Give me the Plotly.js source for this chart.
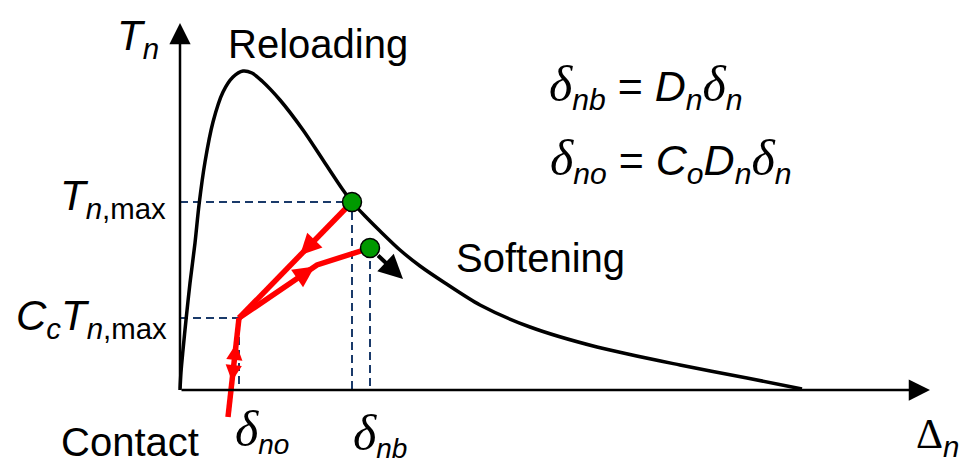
<!DOCTYPE html>
<html><head><meta charset="utf-8">
<script src="https://cdn.plot.ly/plotly-3.0.1.min.js"></script>
<style>html,body{margin:0;padding:0;background:#fff}</style>
</head><body><div id="chart" style="width:964px;height:463px"></div>
<script>
// Traction-separation (softening) envelope, schematic units
const curveDelta = [0, 1, 3, 6, 10, 15, 19, 25, 33, 43, 53, 63, 72, 82, 100, 123, 143, 163, 172, 185, 200, 220, 240, 265, 300, 350, 417, 500, 567, 622];
const curveT     = [0, 18, 40, 70, 107, 147, 185, 228, 268, 298, 313, 319, 317, 309, 290, 260, 230, 200, 188, 174, 159, 140, 124, 107, 85, 63, 43, 25, 12, 1];

// characteristic values
const deltaNb0 = 172;      // separation at unloading start
const tnMax = 188;         // T_n,max
const deltaNo = 59;        // delta_no
const ccTnMax = 72;        // C_c T_n,max
const deltaNb = 190;       // delta_nb (reloading end)
const tReload = 142;

// red unloading / reloading / contact paths
const unloadDelta = [deltaNb0, deltaNo];
const unloadT     = [tnMax, ccTnMax];
const reloadDelta = [deltaNo, 137, deltaNb];
const reloadT     = [ccTnMax, 125, tReload];
const contactDelta = [48, deltaNo];
const contactT     = [-27, ccTnMax];
// softening direction arrow end
const softDelta = 223, softT = 111;
// axis extents
const axisXEnd = 750, axisYEnd = 367;

const navy = '#1a3a6a';
const dash = {color: navy, width: 2, dash: '8px,5px'};
const traces = [
  {x: [0, deltaNb0, deltaNb0], y: [tnMax, tnMax, 0], mode: 'lines', line: dash},
  {x: [0, deltaNo, deltaNo], y: [ccTnMax, ccTnMax, 0], mode: 'lines', line: dash},
  {x: [deltaNb, deltaNb], y: [tReload, 0], mode: 'lines', line: dash},
  {x: curveDelta, y: curveT, mode: 'lines', line: {color: '#000', width: 3.5, shape: 'spline', smoothing: 0.8}},
  {x: unloadDelta, y: unloadT, mode: 'lines', line: {color: '#ff0000', width: 5.5}},
  {x: reloadDelta, y: reloadT, mode: 'lines', line: {color: '#ff0000', width: 5.5}},
  {x: contactDelta, y: contactT, mode: 'lines', line: {color: '#ff0000', width: 5.5}},
  {x: [deltaNb0, deltaNb], y: [tnMax, tReload], mode: 'markers',
   marker: {size: 19, color: '#009900', line: {color: '#000', width: 1.5}}}
];

function lerp(xs, ys, i, t) {
  return [xs[i] + (xs[i+1]-xs[i])*t, ys[i] + (ys[i+1]-ys[i])*t];
}
function arrow(tip, tail, color, w, size, extra) {
  return Object.assign({x: tip[0], y: tip[1], ax: tail[0], ay: tail[1], xref: 'x', yref: 'y', axref: 'x', ayref: 'y',
    text: '', showarrow: true, arrowhead: 2, arrowcolor: color, arrowwidth: w, arrowsize: size, standoff: 0}, extra || {});
}

const W = 964, H = 463;
function txt(text, px, py, size, xanchor, extra) {
  return Object.assign({x: px / W, y: 1 - py / H, xref: 'paper', yref: 'paper', text: text, showarrow: false,
    xanchor: xanchor || 'center', yanchor: 'middle', font: {family: 'Liberation Sans, Arial', size: size, color: '#000'}}, extra || {});
}
const dl = '<span style="font-family:Liberation Serif;font-size:50px"><i>δ</i></span>';

const annotations = [
  // axes
  arrow([axisXEnd, 0], [0, 0], '#000', 2.5, 1.7),
  arrow([0, axisYEnd], [0, 0], '#000', 2.5, 1.7),
  // path direction arrows
  arrow(lerp(unloadDelta, unloadT, 0, 0.46), lerp(unloadDelta, unloadT, 0, 0.34), '#ff0000', 5, 0.85),
  arrow(lerp(reloadDelta, reloadT, 0, 0.97), lerp(reloadDelta, reloadT, 0, 0.83), '#ff0000', 5, 0.85),
  arrow(lerp(contactDelta, contactT, 0, 0.74), lerp(contactDelta, contactT, 0, 0.62), '#ff0000', 5, 0.65),
  arrow(lerp(contactDelta, contactT, 0, 0.36), lerp(contactDelta, contactT, 0, 0.48), '#ff0000', 5, 0.65),
  arrow([softDelta, softT], [deltaNb, tReload], '#000', 4, 1.2, {startstandoff: 9}),
  // labels
  txt('<i>T</i><sub><i>n</i></sub>', 138, 38, 42),
  txt('Reloading', 318, 44, 40),
  txt(dl + '<sub><i>nb</i></sub> = <i>D</i><sub><i>n</i></sub>' + dl + '<sub><i>n</i></sub>', 646, 86, 43),
  txt(dl + '<sub><i>no</i></sub> = <i>C</i><sub><i>o</i></sub><i>D</i><sub><i>n</i></sub>' + dl + '<sub><i>n</i></sub>', 670, 160, 43),
  txt('<i>T</i><sub><i>n</i>,max</sub>', 168, 198, 42, 'right'),
  txt('<i>C</i><sub><i>c</i></sub><i>T</i><sub><i>n</i>,max</sub>', 169, 318, 42, 'right'),
  txt('Softening', 540, 258, 40),
  txt('Contact', 130, 442, 40),
  txt(dl + '<sub><i>no</i></sub>', 262, 430, 40),
  txt(dl + '<sub><i>nb</i></sub>', 380, 434, 40),
  txt('<span style="font-family:Liberation Serif">Δ</span><sub><i>n</i></sub>', 937, 437, 42)
];

const layout = {
  width: W, height: H, margin: {l: 0, r: 0, t: 0, b: 0},
  paper_bgcolor: '#fff', plot_bgcolor: '#fff', showlegend: false,
  xaxis: {range: [-180, 784], visible: false, fixedrange: true},
  yaxis: {range: [-73, 390], visible: false, fixedrange: true},
  annotations: annotations
};
Plotly.newPlot('chart', traces, layout, {staticPlot: true, displayModeBar: false});
</script></body></html>
